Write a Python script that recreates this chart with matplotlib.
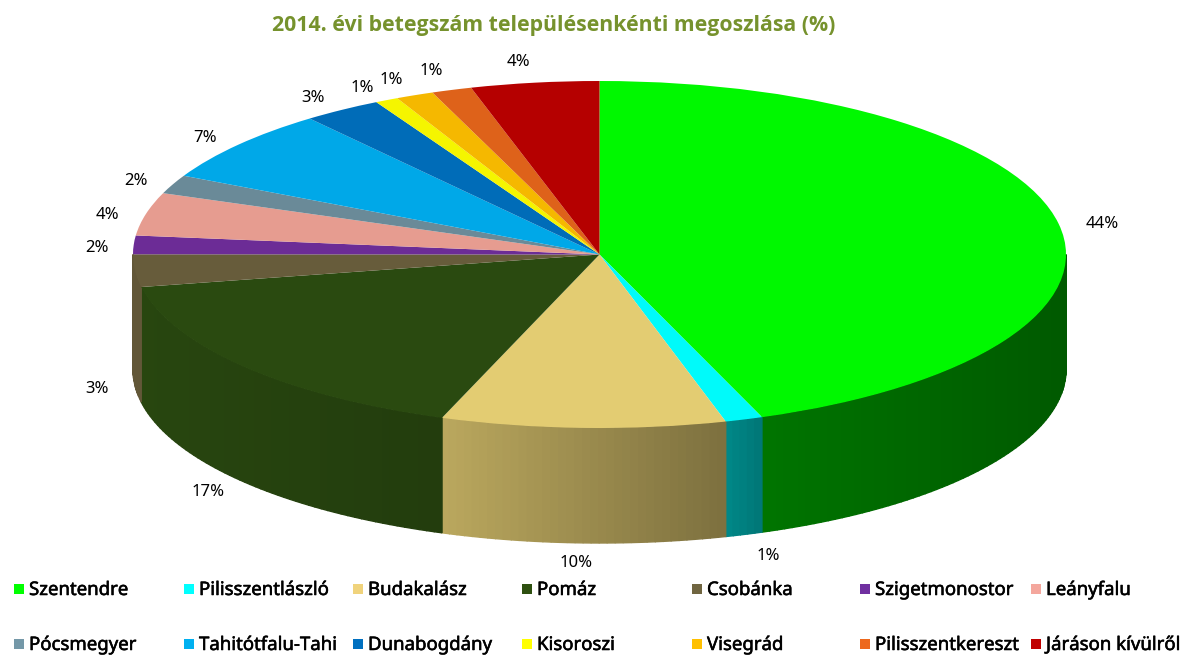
import numpy as np
import matplotlib
matplotlib.use('Agg')
import matplotlib.pyplot as plt
import matplotlib.patheffects as pe
from matplotlib.colors import to_rgb
from matplotlib.patches import Rectangle

W, H = 1192, 655

title = '2014. évi betegszám településenkénti megoszlása (%)'
towns = ['Szentendre', 'Pilisszentlászló', 'Budakalász', 'Pomáz', 'Csobánka',
         'Szigetmonostor', 'Leányfalu', 'Pócsmegyer', 'Tahitótfalu-Tahi',
         'Dunabogdány', 'Kisoroszi', 'Visegrád', 'Pilisszentkereszt', 'Járáson kívülről']
shares = [44.34, 1.3, 9.84, 16.52, 3.02, 1.73, 4.0, 1.75, 6.83, 2.73, 0.8, 1.31, 1.39, 4.44]
top_colors = ['#00F800', '#00FAFA', '#E3CC72', '#2A4A10', '#675C3B', '#6C2C96', '#E69C90',
              '#6A8A98', '#00A8E8', '#006CB8', '#F5F500', '#F5B800', '#DE621A', '#B50000']
legend_colors = ['#00FF00', '#00FFFF', '#F0D37C', '#2E5010', '#706540', '#7030A0', '#F4A79D',
                 '#7498A8', '#00B0F0', '#0070C0', '#FFFF00', '#FFC000', '#ED681D', '#C00000']

# layout, pixels of the reference
cx, cy, rx, ry, depth = 599.5, 254.5, 466.5, 173.5, 115
label_xy = [(1102, 224), (768, 556), (576, 563), (208, 492), (97, 389), (97, 248), (107, 215),
            (136, 181), (205, 138), (313, 98), (362, 88), (391, 80), (431, 71), (518, 62)]
legend_x = [14, 184, 353, 522, 692, 860, 1031, 14, 184, 353, 522, 692, 860, 1031]
legend_y = [589] * 7 + [644] * 7

plt.rcParams['font.family'] = ['Noto Sans', 'DejaVu Sans']


def fx(px):
    return px / W


def fy(px):
    return 1 - px / H


def side_shade(x):
    return np.interp(x, [-1, -0.33, 0.27, 0.35, 1], [0.95, 0.82, 0.55, 0.47, 0.36])


fig = plt.figure(figsize=(W / 100, H / 100), dpi=100)
ax = fig.add_axes([0, 0, 1, 1])

wedges, _ = ax.pie(shares, colors=top_colors, startangle=90, counterclock=False,
                   radius=1, wedgeprops={'linewidth': 0, 'zorder': 5})
ax.set_aspect('auto')
ax.set_xlim(-cx / rx, (W - cx) / rx)
ax.set_ylim(-(H - cy) / ry, cy / ry)
ax.set_axis_off()

# side wall, cut in strips so the shade can change along x
d = depth / ry
for wedge, col in zip(wedges, top_colors):
    rgb = np.array(to_rgb(col))
    for off in (-360, 0, 360):
        lo = max(wedge.theta1 + off, 180)
        hi = min(wedge.theta2 + off, 360)
        if lo >= hi:
            continue
        th = np.radians(np.linspace(lo, hi, int(hi - lo) + 2))
        for a, b in zip(th[:-1], th[1:]):
            xs = np.cos([a, b])
            ys = np.sin([a, b])
            shade = side_shade(xs.mean())
            ax.fill([xs[0], xs[1], xs[1], xs[0]],
                    [ys[0], ys[1], ys[1] - d, ys[0] - d],
                    color=tuple(rgb * shade), lw=1.0, zorder=2)

# percent labels
for v, (x, y) in zip(shares, label_xy):
    fig.text(fx(x), fy(y), f'{v:.0f}%', ha='center', va='center', fontsize=12, color='black')

fig.text(fx(553.5), fy(25.5), title, ha='center', va='center', fontsize=15.3,
         family=['Open Sans', 'DejaVu Sans'], fontweight='bold', color='#76922D')

# legend
for name, col, x, y in zip(towns, legend_colors, legend_x, legend_y):
    fig.add_artist(Rectangle((fx(x), fy(y + 5)), 10 / W, 10 / H, transform=fig.transFigure,
                             facecolor=col, edgecolor='none'))
    t = fig.text(fx(x + 15), fy(y + 1), name, ha='left', va='center', fontsize=13.4, color='black')
    t.set_path_effects([pe.withStroke(linewidth=0.4, foreground='black')])

fig.savefig('out.png', dpi=100)
